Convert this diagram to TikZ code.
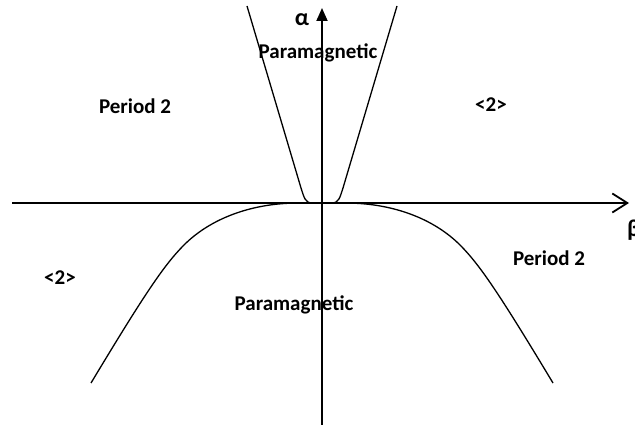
\documentclass[tikz,border=0pt]{standalone}
\usepackage{fontspec}
\setmainfont{Carlito}
\usetikzlibrary{arrows.meta}
\begin{document}
\begin{tikzpicture}[x=1pt,y=-1pt,
  lbl/.style={font=\bfseries\fontsize{21}{23}\selectfont, inner sep=0pt},
  greek/.style={font=\bfseries\fontsize{24}{26}\selectfont, inner sep=0pt},
  axis/.style={line width=1.8pt},
  bound/.style={line width=1.3pt}]
\useasboundingbox (0,0) rectangle (635,435);
% axes
\coordinate (xs) at (12,203);
\coordinate (xe) at (629,203);
\coordinate (ys) at (322,425);
\coordinate (ye) at (322,8);
\draw[axis,-{Straight Barb[length=15pt,width=19pt,line width=1.8pt]}] (xs) -- (xe);
\draw[axis,-{Triangle[length=13pt,width=11pt]}] (ys) -- (ye);
\node[greek] (alpha) at (302,20) {α};
\node[greek,anchor=west] (beta) at (627,230) {β};
% upper boundaries
\draw[bound] (312,203) .. controls (305,203) and (304,197) .. (301,188) -- (247,6);
\draw[bound] (332,203) .. controls (339,203) and (340,197) .. (343,188) -- (397,6);
% lower boundaries
\draw[bound] (345,203) .. controls (395,203) and (435,220) .. (460,245)
  .. controls (480,265) and (500,295) .. (553,383);
\draw[bound] (299,203) .. controls (249,203) and (209,220) .. (184,245)
  .. controls (164,265) and (144,295) .. (91,383);
% labels
\node[lbl] (pmtop) at (318,53) {Paramagnetic};
\node[lbl] (pmbot) at (294,305) {Paramagnetic};
\node[lbl] (p2l) at (135,106) {Period 2};
\node[lbl] (p2r) at (549,258) {Period 2};
\node[lbl] (a2r) at (491,105) {<2>};
\node[lbl] (a2l) at (60,278) {<2>};
\end{tikzpicture}
\end{document}
